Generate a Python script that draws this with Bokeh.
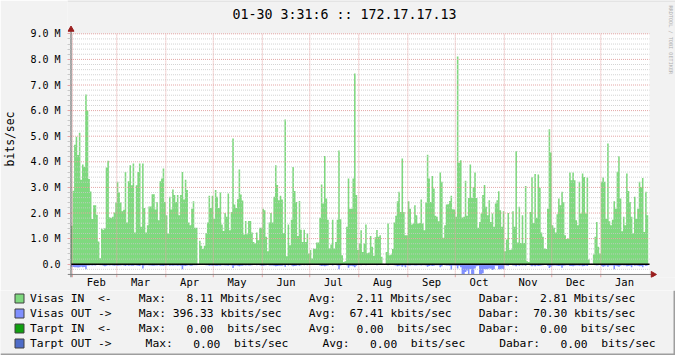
import re
import numpy as np
from bokeh.plotting import figure
from bokeh.models import Range1d, FixedTicker
from bokeh.core.properties import value
from bokeh.embed import file_html
from bokeh.resources import INLINE

# ---------------- data (Mbits/sec, one value per day, first value = Jan 31 of previous year) -------------
months = ["Feb", "Mar", "Apr", "May", "Jun", "Jul", "Aug", "Sep", "Oct", "Nov", "Dec", "Jan"]
month_lengths = [28, 31, 30, 31, 30, 31, 31, 30, 31, 30, 31, 31]

in_feb = [1.50, 2.87, 4.67, 4.98, 4.27, 5.13, 3.30, 3.89, 3.81, 6.63, 6.00, 3.33, 2.84, 1.77, 2.30,
          2.30, 1.93, 0.89, 0.23, 1.38, 1.35, 1.40, 3.78, 4.04, 1.83, 1.80, 1.85, 2.02, 2.41]
in_mar = [3.22, 2.80, 2.41, 2.07, 2.13, 3.60, 1.63, 3.24, 3.87, 3.08, 3.93, 1.24, 3.08, 3.60, 3.93, 1.46,
          3.93, 2.20, 1.24, 1.52, 2.25, 2.25, 2.73, 2.73, 2.14, 2.43, 1.72, 3.24, 3.35, 3.74, 2.43]
in_apr = [1.91, 1.20, 2.63, 2.14, 2.92, 2.70, 2.43, 2.70, 1.91, 2.70, 3.60, 2.53, 3.30, 2.90, 1.63,
          1.52, 2.17, 2.46, 1.42, 1.42, 0.00, 0.92, 0.72, 0.59, 0.72, 1.21, 1.63, 2.67, 2.20, 2.67]
in_may = [1.78, 2.90, 2.63, 2.20, 2.80, 1.55, 1.30, 2.00, 1.85, 2.76, 1.33, 2.04, 4.91, 2.33, 2.20, 2.54,
          3.70, 2.72, 2.49, 1.16, 1.69, 1.17, 1.69, 1.69, 1.24, 0.87, 0.81, 1.24, 0.94, 1.42, 1.42]
in_jun = [2.17, 2.11, 1.07, 0.51, 1.63, 2.00, 1.63, 2.63, 3.87, 3.09, 2.50, 2.67, 2.53, 1.22, 5.65,
          0.31, 1.55, 0.74, 1.74, 3.80, 2.86, 2.43, 1.10, 2.47, 1.35, 0.87, 1.35, 0.87, 1.20, 0.42]
in_jul = [0.55, 0.22, 0.61, 0.59, 0.85, 0.85, 1.81, 3.11, 2.37, 4.23, 2.57, 1.74, 0.61, 0.77, 1.74, 0.61,
          0.87, 1.74, 4.44, 1.76, 0.35, 0.09, 0.12, 1.46, 3.35, 2.17, 2.17, 3.35, 7.45, 2.70, 0.55]
in_aug = [0.81, 1.33, 0.48, 0.81, 1.55, 0.43, 0.46, 1.10, 0.68, 0.33, 1.05, 1.34, 1.07, 1.13, 0.29, 0.00,
          0.00, 0.48, 1.59, 0.35, 0.38, 0.59, 1.63, 1.89, 2.46, 2.83, 2.04, 4.13, 2.04, 1.13, 1.13]
in_sep = [2.46, 2.17, 1.55, 1.59, 2.30, 1.91, 1.59, 1.61, 2.53, 1.59, 1.33, 2.41, 4.28, 3.35, 2.43,
          3.45, 2.96, 1.89, 1.85, 1.68, 3.58, 3.22, 1.03, 1.52, 2.33, 2.34, 2.47, 2.67, 2.15, 2.14]
in_oct = [1.85, 8.11, 3.96, 4.06, 1.82, 1.85, 3.26, 1.89, 2.59, 3.89, 2.59, 3.02, 3.58, 2.59, 1.42, 1.65,
          1.98, 2.70, 3.09, 2.24, 1.91, 2.50, 1.65, 1.98, 1.46, 2.37, 2.50, 2.85, 2.11, 1.46, 2.07]
in_nov = [0.51, 0.96, 2.00, 0.55, 0.57, 2.07, 1.46, 4.41, 0.85, 2.24, 0.83, 1.91, 0.83, 3.05, 0.12,
          0.09, 2.04, 3.40, 1.61, 3.52, 1.81, 3.50, 2.99, 1.24, 1.07, 0.61, 0.59, 2.17, 5.27, 4.36]
in_dec = [1.52, 1.42, 1.24, 1.95, 2.57, 2.30, 2.83, 2.43, 1.13, 0.98, 1.00, 3.58, 3.28, 3.58, 3.28, 1.72,
          1.52, 3.22, 1.98, 3.54, 3.41, 1.98, 3.39, 0.18, 0.00, 0.00, 0.38, 1.07, 1.65, 0.68, 0.42]
in_jan = [3.22, 3.39, 3.22, 1.78, 4.71, 1.68, 1.52, 1.74, 2.46, 2.17, 3.61, 4.22, 2.57, 1.29, 1.85,
          1.52, 3.54, 2.86, 2.43, 1.85, 1.20, 2.63, 1.78, 2.17, 3.22, 3.02, 3.37, 1.26, 2.83, 1.91]

out_feb = [0.10, 0.11, 0.12, 0.12, 0.13, 0.12, 0.10, 0.12, 0.11, 0.20, 0.05, 0.05, 0.04, 0.05, 0.04,
           0.05, 0.03, 0.02, 0.04, 0.04, 0.06, 0.08, 0.06, 0.04, 0.05, 0.04, 0.05, 0.06, 0.05]
out_mar = [0.06, 0.05, 0.05, 0.04, 0.05, 0.07, 0.04, 0.06, 0.05, 0.06, 0.06, 0.04, 0.05, 0.06, 0.07, 0.04,
           0.17, 0.05, 0.04, 0.04, 0.05, 0.05, 0.06, 0.06, 0.05, 0.05, 0.04, 0.06, 0.06, 0.07, 0.05]
out_apr = [0.05, 0.04, 0.06, 0.05, 0.06, 0.05, 0.05, 0.06, 0.05, 0.06, 0.20, 0.06, 0.07, 0.05, 0.04,
           0.06, 0.06, 0.04, 0.04, 0.04, 0.00, 0.03, 0.03, 0.02, 0.03, 0.04, 0.04, 0.06, 0.05, 0.06]
out_may = [0.05, 0.06, 0.06, 0.05, 0.06, 0.04, 0.04, 0.05, 0.05, 0.06, 0.04, 0.05, 0.15, 0.06, 0.05, 0.06,
           0.08, 0.06, 0.06, 0.04, 0.05, 0.04, 0.05, 0.05, 0.04, 0.03, 0.03, 0.04, 0.03, 0.04, 0.06]
out_jun = [0.06, 0.05, 0.04, 0.03, 0.05, 0.05, 0.05, 0.06, 0.08, 0.07, 0.06, 0.06, 0.06, 0.04, 0.10,
           0.02, 0.05, 0.03, 0.05, 0.08, 0.07, 0.06, 0.04, 0.06, 0.04, 0.03, 0.04, 0.03, 0.04, 0.02]
out_jul = [0.02, 0.02, 0.03, 0.03, 0.03, 0.03, 0.05, 0.07, 0.06, 0.08, 0.06, 0.05, 0.03, 0.03, 0.05, 0.03,
           0.03, 0.05, 0.20, 0.05, 0.02, 0.01, 0.01, 0.04, 0.14, 0.06, 0.06, 0.08, 0.12, 0.06, 0.02]
out_aug = [0.03, 0.04, 0.02, 0.03, 0.04, 0.02, 0.02, 0.03, 0.02, 0.02, 0.03, 0.04, 0.03, 0.03, 0.01, 0.00,
           0.00, 0.02, 0.04, 0.02, 0.02, 0.02, 0.04, 0.05, 0.08, 0.06, 0.05, 0.10, 0.05, 0.12, 0.04]
out_sep = [0.05, 0.05, 0.04, 0.04, 0.05, 0.05, 0.04, 0.04, 0.05, 0.04, 0.04, 0.05, 0.10, 0.07, 0.05,
           0.07, 0.06, 0.04, 0.04, 0.04, 0.12, 0.08, 0.03, 0.04, 0.05, 0.05, 0.06, 0.22, 0.05, 0.05]
out_oct = [0.06, 0.17, 0.06, 0.12, 0.38, 0.396, 0.30, 0.25, 0.38, 0.20, 0.38, 0.38, 0.17, 0.08, 0.06, 0.38,
           0.38, 0.35, 0.20, 0.20, 0.20, 0.17, 0.18, 0.23, 0.20, 0.06, 0.06, 0.20, 0.20, 0.18, 0.20]
out_nov = [0.04, 0.05, 0.06, 0.03, 0.03, 0.05, 0.05, 0.08, 0.04, 0.06, 0.04, 0.05, 0.04, 0.06, 0.02,
           0.01, 0.05, 0.08, 0.05, 0.08, 0.05, 0.07, 0.06, 0.05, 0.04, 0.03, 0.03, 0.06, 0.15, 0.10]
out_dec = [0.06, 0.05, 0.05, 0.06, 0.07, 0.06, 0.14, 0.06, 0.05, 0.04, 0.04, 0.07, 0.07, 0.08, 0.06, 0.05,
           0.05, 0.06, 0.05, 0.08, 0.07, 0.05, 0.07, 0.01, 0.00, 0.00, 0.02, 0.04, 0.05, 0.04, 0.03]
out_jan = [0.07, 0.10, 0.08, 0.05, 0.10, 0.05, 0.05, 0.05, 0.20, 0.06, 0.08, 0.10, 0.06, 0.04, 0.05,
           0.05, 0.08, 0.07, 0.06, 0.12, 0.04, 0.06, 0.05, 0.06, 0.08, 0.07, 0.12, 0.04, 0.07, 0.05]

y_ticks = [0, 1, 2, 3, 4, 5, 6, 7, 8, 9]
y_tick_labels = ["0.0", "1.0 M", "2.0 M", "3.0 M", "4.0 M", "5.0 M", "6.0 M", "7.0 M", "8.0 M", "9.0 M"]

title_text = "01-30 3:31:6 :: 172.17.17.13"
legend_colors = ["#7FD97F", "#8090FF", "#10A010", "#4E6CC8"]
legend_texts = [
    "Visas IN  <-    Max:   8.11 Mbits/sec    Avg:   2.11 Mbits/sec    Dabar:   2.81 Mbits/sec",
    "Visas OUT ->    Max: 396.33 kbits/sec    Avg:  67.41 kbits/sec    Dabar:  70.30 kbits/sec",
    "Tarpt IN  <-    Max:   0.00  bits/sec    Avg:   0.00  bits/sec    Dabar:   0.00  bits/sec",
    "Tarpt OUT ->     Max:   0.00  bits/sec     Avg:   0.00  bits/sec     Dabar:   0.00  bits/sec",
]
watermark = "RRDTOOL / TOBI OETIKER"

# ---------------- derived series ----------------
in_vals = np.array(in_feb + in_mar + in_apr + in_may + in_jun + in_jul + in_aug + in_sep + in_oct + in_nov + in_dec + in_jan)
out_vals = np.array(out_feb + out_mar + out_apr + out_may + out_jun + out_jul + out_aug + out_sep + out_oct + out_nov + out_dec + out_jan)
days = np.arange(len(in_vals)) - 1            # day 0 = Feb 1
edges = np.append(days, days[-1] + 1)
xs = np.repeat(edges, 2)[1:-1]
in_y = np.repeat(in_vals, 2)
out_y = -np.repeat(out_vals, 2)

month_starts = [int(v) for v in np.cumsum([0] + month_lengths[:-1])]
month_mid = [s + 15 for s in month_starts]

# ---------------- geometry (canvas pixels -> data units) ----------------
W = 675
H_MAIN, H_LEG = 290, 65
LEFT = 64                       # left panel (y axis labels) width
FRAME_H = 277
PX_DAY, X_FEB1 = 1.5817, 69.0   # pixels per day, pixel of Feb 1
PX_M, Y_TOP9 = 25.6, 33.3       # pixels per Mbit, pixel of the 9.0 M line

def cx(px):
    return (px - X_FEB1) / PX_DAY

def cy(py):
    return 9.0 - (py - Y_TOP9) / PX_M

AXIS_X = cx(67.5)               # y axis position (day units)
DATA_END = cx(646)
Y_MIN = -0.4                    # bottom of graph area
Y_MAX = 9.0

BG = "#F2F2F2"
MONO = "DejaVu Sans Mono"
MGRID = "#E4A6A6"
GRID = "#C8C8C8"
ARROW = "#9A1E1E"

p = figure(frame_width=W - LEFT, frame_height=FRAME_H, output_backend="svg", toolbar_location=None,
           x_range=Range1d(cx(LEFT), cx(W)), y_range=Range1d(cy(FRAME_H), cy(0)),
           min_border_left=LEFT, min_border_right=0, min_border_top=0, min_border_bottom=H_MAIN - FRAME_H,
           background_fill_color=BG, border_fill_color=BG, outline_line_color=None)
p.xgrid.visible = False
p.ygrid.visible = False

# graph canvas
p.quad(left=[AXIS_X], right=[DATA_END], bottom=[Y_MIN], top=[Y_MAX], fill_color="white", line_color=None)

# data
p.varea(x=xs, y1=0, y2=in_y, fill_color="#7FD97F")
p.varea(x=xs, y1=0, y2=out_y, fill_color="#8090FF")

# grid lines (drawn over the areas, like rrdtool)
minor_y = [round(-0.2 + 0.2 * i, 1) for i in range(47) if round(-0.2 + 0.2 * i, 1) not in y_ticks]
p.segment(x0=[AXIS_X] * len(minor_y), y0=minor_y, x1=[DATA_END] * len(minor_y), y1=minor_y,
          line_color=GRID, line_alpha=0.8, line_dash="1 1", line_width=1)
p.segment(x0=[AXIS_X] * len(y_ticks), y0=y_ticks, x1=[DATA_END] * len(y_ticks), y1=y_ticks,
          line_color=MGRID, line_dash="1 1", line_width=1)
p.segment(x0=month_starts, y0=[Y_MIN] * 12, x1=month_starts, y1=[Y_MAX] * 12,
          line_color=MGRID, line_dash="1 1", line_width=1)
p.segment(x0=month_starts, y0=[Y_MIN] * 12, x1=month_starts, y1=[cy(277)] * 12,
          line_color=MGRID, line_width=1)
p.segment(x0=[AXIS_X], y0=[0], x1=[DATA_END], y1=[0], line_color="black", line_width=1.5)

# axis lines and arrows
p.segment(x0=[AXIS_X], y0=[cy(277)], x1=[AXIS_X], y1=[cy(29)], line_color="#5A5A5A", line_width=1)
p.segment(x0=[cx(64)], y0=[Y_MIN], x1=[cx(648)], y1=[Y_MIN], line_color="#808080", line_width=1)
p.scatter(x=[AXIS_X], y=[cy(29)], marker="triangle", size=6, angle=0,
          fill_color=ARROW, line_color=ARROW)
p.scatter(x=[cx(649.5)], y=[Y_MIN], marker="triangle", size=6, angle=-np.pi / 2,
          fill_color=ARROW, line_color=ARROW)

# y axis (labels/ticks in the left panel)
yt = FixedTicker(ticks=y_ticks, minor_ticks=minor_y)
p.yaxis.ticker = yt
p.yaxis.bounds = (-0.2, 9.0)
p.yaxis.major_label_overrides = {t: l for t, l in zip(y_ticks, y_tick_labels)}
p.yaxis.major_label_text_font = MONO
p.yaxis.major_label_text_font_size = "10px"
p.yaxis.major_label_text_color = "black"
p.yaxis.major_label_standoff = 7
p.yaxis.major_tick_out = 0
p.yaxis.major_tick_in = 3
p.yaxis.minor_tick_out = 0
p.yaxis.minor_tick_in = 3
p.yaxis.major_tick_line_color = MGRID
p.yaxis.minor_tick_line_color = GRID
p.yaxis.axis_line_color = None
p.yaxis.axis_label = "bits/sec"
p.yaxis.axis_label_text_font = MONO
p.yaxis.axis_label_text_font_size = "11.4px"
p.yaxis.axis_label_text_font_style = "normal"
p.yaxis.axis_label_text_color = "black"
p.yaxis.axis_label_standoff = 10

# x axis (labels in the bottom panel)
p.xaxis.ticker = FixedTicker(ticks=month_mid)
p.xaxis.major_label_overrides = {m: n for m, n in zip(month_mid, months)}
p.xaxis.major_label_text_font = MONO
p.xaxis.major_label_text_font_size = "10.5px"
p.xaxis.major_label_text_color = "black"
p.xaxis.major_tick_line_color = None
p.xaxis.minor_tick_line_color = None
p.xaxis.major_tick_out = 0
p.xaxis.major_tick_in = 0
p.xaxis.major_label_standoff = -2
p.xaxis.axis_line_color = None

# title and watermark
p.text(x=[cx(341)], y=[cy(14)], text=[title_text], text_align="center", text_baseline="middle",
       text_font=value(MONO), text_font_size=value("13.3px"), text_color="black")
p.text(x=[cx(667.5)], y=[cy(5)], text=[watermark], angle=-np.pi / 2, text_align="left",
       text_baseline="middle", text_font=value(MONO), text_font_size=value("5.2px"), text_color="#B0B0B0")

# frame shading (top light, right dark)
p.quad(left=[cx(LEFT)], right=[cx(W)], bottom=[cy(1)], top=[cy(0)], fill_color="#D6D6D6", line_color=None)
p.quad(left=[cx(W - 2)], right=[cx(W)], bottom=[cy(FRAME_H)], top=[cy(0)], fill_color="#9E9E9E", line_color=None)

# ---------------- legend strip (separate root, canvas pixel coordinates) ----------------
leg = figure(width=W, height=H_LEG, output_backend="svg", toolbar_location=None,
             x_range=Range1d(0, W), y_range=Range1d(H_MAIN + H_LEG, H_MAIN),
             min_border=0, x_axis_location=None, y_axis_location=None,
             background_fill_color=BG, border_fill_color=BG, outline_line_color=None)
leg.grid.visible = False
ADV = 6.8
rows_y = [298 + 15 * i for i in range(len(legend_texts))]
leg.quad(left=[14.5] * 4, right=[23.5] * 4, top=[y - 4.5 for y in rows_y], bottom=[y + 4.5 for y in rows_y],
         fill_color=legend_colors, line_color="#404040", line_width=1)
tok_x, tok_y, tok_t = [], [], []
for yrow, line in zip(rows_y, legend_texts):
    for m in re.finditer(r"\S+(?: \S+)*", line):
        tok_x.append(29.5 + m.start() * ADV)
        tok_y.append(yrow)
        tok_t.append(m.group())
leg.text(x=tok_x, y=tok_y, text=tok_t, text_font=value(MONO), text_font_size=value("11.3px"),
         text_baseline="middle", text_align="left", text_color="black")
leg.quad(left=[W - 2], right=[W], top=[H_MAIN], bottom=[H_MAIN + H_LEG], fill_color="#9E9E9E", line_color=None)
leg.quad(left=[0], right=[W], top=[H_MAIN + H_LEG - 2], bottom=[H_MAIN + H_LEG], fill_color="#9E9E9E", line_color=None)

open("out.html", "w").write(file_html([p, leg], INLINE))
